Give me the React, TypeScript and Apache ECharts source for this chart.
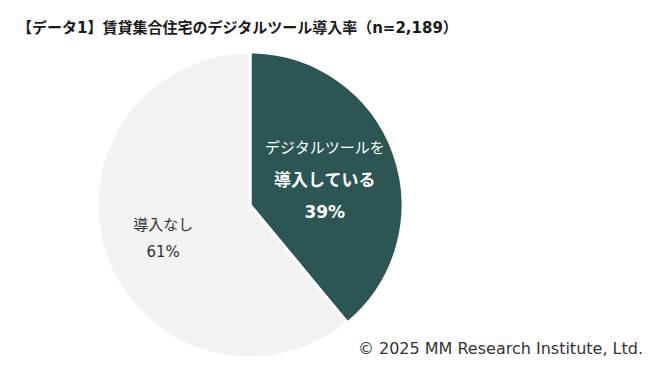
import React, { useEffect, useRef } from "react";
import * as echarts from "echarts";

const categories = ["デジタルツールを導入している", "導入なし"];
const values = [39, 61];
const colors = ["#2b5654", "#f2f2f2"];
const titleText = "【データ1】賃貸集合住宅のデジタルツール導入率（n=2,189）";
const creditText = "© 2025 MM Research Institute, Ltd.";

const FONT = '"DejaVu Sans", "Noto Sans CJK JP", sans-serif';

export default function App() {
  const ref = useRef<HTMLDivElement>(null);
  useEffect(() => {
    document.body.style.margin = "0";
    const chart = echarts.init(ref.current!, null, { renderer: "svg" });
    chart.setOption({
      animation: false,
      backgroundColor: "#ffffff",
      textStyle: { fontFamily: FONT },
      title: {
        text: titleText,
        left: 12,
        top: 15,
        textStyle: { fontFamily: FONT, fontSize: 15, fontWeight: "bold", color: "#1a1a1a" },
      },
      graphic: [
        {
          type: "text",
          right: 22,
          top: 340,
          style: { text: creditText, fontFamily: FONT, fontSize: 16, fill: "#333333" },
        },
      ],
      series: [
        {
          type: "pie",
          center: [250, 205],
          radius: 153,
          startAngle: 90,
          clockwise: true,
          itemStyle: { borderColor: "#ffffff", borderWidth: 3 },
          labelLine: { show: false },
          emphasis: { disabled: true },
          data: [
            {
              name: categories[0],
              value: values[0],
              itemStyle: { color: colors[0] },
              label: {
                show: true,
                position: "inside",
                padding: [4, 0, 0, 0],
                formatter: (p: any) => `{a|デジタルツールを}\n{b|導入している}\n{b|${p.value}%}`,
                rich: {
                  a: { fontFamily: FONT, fontSize: 15, color: "#ffffff", lineHeight: 31 },
                  b: { fontFamily: FONT, fontSize: 17, fontWeight: "bold", color: "#ffffff", lineHeight: 32 },
                },
              },
            },
            {
              name: categories[1],
              value: values[1],
              itemStyle: { color: colors[1] },
              label: {
                show: true,
                position: "inside",
                padding: [14, 24, 0, 0],
                formatter: (p: any) => `{a|${p.name}}\n{a|${p.value}%}`,
                rich: {
                  a: { fontFamily: FONT, fontSize: 15, color: "#333333", lineHeight: 27 },
                },
              },
            },
          ],
        },
      ],
    });
    return () => chart.dispose();
  }, []);
  return <div ref={ref} style={{ width: 665, height: 383 }} />;
}
